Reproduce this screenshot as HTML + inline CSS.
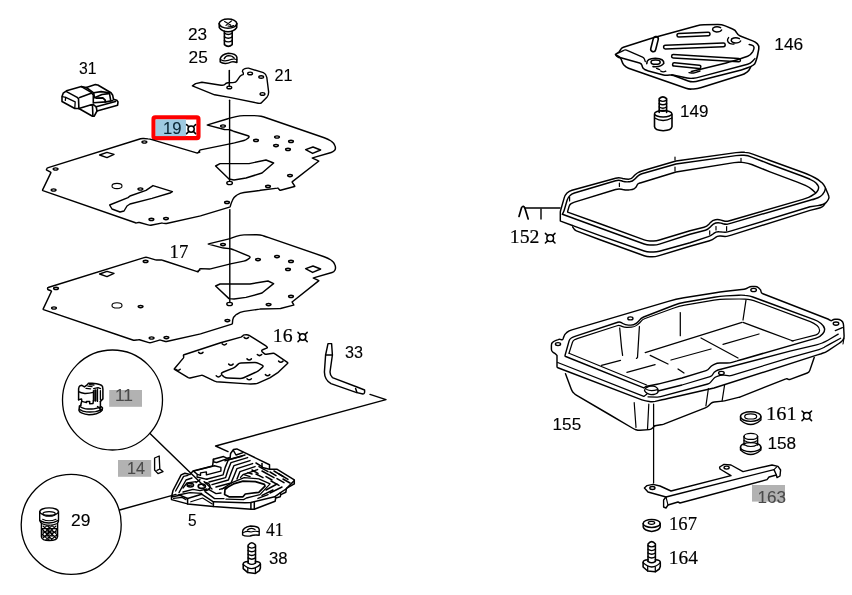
<!DOCTYPE html>
<html><head><meta charset="utf-8"><title>Diagram</title>
<style>
html,body{margin:0;padding:0;background:#fff;}
body{width:852px;height:595px;overflow:hidden;font-family:"Liberation Sans",sans-serif;}
svg{display:block;font-family:"Liberation Sans",sans-serif;will-change:transform;transform:translateZ(0);}
</style></head><body>
<svg width="852" height="595" viewBox="0 0 852 595">
<rect width="852" height="595" fill="#fff"/>
<g fill="none" stroke="#000" stroke-width="1.45" stroke-linejoin="round" stroke-linecap="round">
<rect x="153.55" y="117.35" width="44.9" height="20.75" rx="1.6" fill="#fff" stroke="#fe0000" stroke-width="4.2" stroke-linejoin="miter"/>
<rect x="155.6" y="119.4" width="30.4" height="16.7" fill="#9ecae1" stroke="none"/>
<text x="163" y="134.4" textLength="18.5" lengthAdjust="spacingAndGlyphs" font-size="17" fill="#0a2836" stroke="#0a2836" stroke-width="0.12">19</text>
<circle cx="191.1" cy="129.1" r="3.136" stroke-width="1.5"/>
<line x1="188.842" y1="126.842" x2="186.6" y2="124.6" stroke-width="1.5"/>
<line x1="193.358" y1="126.842" x2="195.6" y2="124.6" stroke-width="1.5"/>
<line x1="188.842" y1="131.358" x2="186.6" y2="133.6" stroke-width="1.5"/>
<line x1="193.358" y1="131.358" x2="195.6" y2="133.6" stroke-width="1.5"/>
<rect x="109.2" y="390" width="32.8" height="16.8" fill="#b2b2b2" stroke="none"/>
<text x="115" y="401.4" textLength="18" lengthAdjust="spacingAndGlyphs" font-size="17" fill="#4a4a4a" stroke="#4a4a4a" stroke-width="0.12">11</text>
<rect x="118" y="460" width="33.2" height="16.8" fill="#b2b2b2" stroke="none"/>
<text x="127" y="474.4" textLength="18" lengthAdjust="spacingAndGlyphs" font-size="17" fill="#4a4a4a" stroke="#4a4a4a" stroke-width="0.12">14</text>
<rect x="752" y="485" width="33" height="16.6" fill="#b2b2b2" stroke="none"/>
<text x="757.5" y="502.6" textLength="28.5" lengthAdjust="spacingAndGlyphs" font-size="17" fill="#4a4a4a" stroke="#4a4a4a" stroke-width="0.12">163</text>
<text x="79" y="74" textLength="17.5" lengthAdjust="spacingAndGlyphs" font-size="17" fill="#000" stroke="#000" stroke-width="0.12">31</text>
<text x="188" y="39.6" textLength="19.2" lengthAdjust="spacingAndGlyphs" font-size="17" fill="#000" stroke="#000" stroke-width="0.12">23</text>
<text x="188.6" y="63" textLength="19.2" lengthAdjust="spacingAndGlyphs" font-size="17" fill="#000" stroke="#000" stroke-width="0.12">25</text>
<text x="274.4" y="81.4" textLength="18" lengthAdjust="spacingAndGlyphs" font-size="17" fill="#000" stroke="#000" stroke-width="0.12">21</text>
<text x="169.6" y="257.9" textLength="18.8" lengthAdjust="spacingAndGlyphs" font-size="19.4" font-family="Liberation Serif" fill="#000" stroke="#000" stroke-width="0.2">17</text>
<text x="272.8" y="341.8" textLength="19.8" lengthAdjust="spacingAndGlyphs" font-size="19.2" font-family="Liberation Serif" fill="#000" stroke="#000" stroke-width="0.2">16</text>
<circle cx="302.6" cy="337" r="3.2" stroke-width="1.5"/>
<line x1="300.296" y1="334.696" x2="298" y2="332.4" stroke-width="1.5"/>
<line x1="304.904" y1="334.696" x2="307.2" y2="332.4" stroke-width="1.5"/>
<line x1="300.296" y1="339.304" x2="298" y2="341.6" stroke-width="1.5"/>
<line x1="304.904" y1="339.304" x2="307.2" y2="341.6" stroke-width="1.5"/>
<text x="345" y="358" textLength="18" lengthAdjust="spacingAndGlyphs" font-size="17" fill="#000" stroke="#000" stroke-width="0.12">33</text>
<text x="71" y="525.6" textLength="19.4" lengthAdjust="spacingAndGlyphs" font-size="17" fill="#000" stroke="#000" stroke-width="0.12">29</text>
<text x="188" y="525.6" textLength="8.6" lengthAdjust="spacingAndGlyphs" font-size="17" fill="#000" stroke="#000" stroke-width="0.12">5</text>
<text x="266" y="535.6" textLength="17.4" lengthAdjust="spacingAndGlyphs" font-size="19.2" font-family="Liberation Serif" fill="#000" stroke="#000" stroke-width="0.2">41</text>
<text x="269" y="563.5" textLength="18.6" lengthAdjust="spacingAndGlyphs" font-size="17" fill="#000" stroke="#000" stroke-width="0.12">38</text>
<text x="774.3" y="50.4" textLength="29" lengthAdjust="spacingAndGlyphs" font-size="17" fill="#000" stroke="#000" stroke-width="0.12">146</text>
<text x="680" y="117" textLength="28.4" lengthAdjust="spacingAndGlyphs" font-size="17" fill="#000" stroke="#000" stroke-width="0.12">149</text>
<text x="509.8" y="242.8" textLength="29.6" lengthAdjust="spacingAndGlyphs" font-size="19.2" font-family="Liberation Serif" fill="#000" stroke="#000" stroke-width="0.2">152</text>
<circle cx="550.2" cy="238.2" r="3.328" stroke-width="1.5"/>
<line x1="547.804" y1="235.804" x2="545.4" y2="233.4" stroke-width="1.5"/>
<line x1="552.596" y1="235.804" x2="555" y2="233.4" stroke-width="1.5"/>
<line x1="547.804" y1="240.596" x2="545.4" y2="243" stroke-width="1.5"/>
<line x1="552.596" y1="240.596" x2="555" y2="243" stroke-width="1.5"/>
<text x="552.6" y="430" textLength="28.6" lengthAdjust="spacingAndGlyphs" font-size="17" fill="#000" stroke="#000" stroke-width="0.12">155</text>
<text x="766" y="420.2" textLength="30.6" lengthAdjust="spacingAndGlyphs" font-size="19.2" font-family="Liberation Serif" fill="#000" stroke="#000" stroke-width="0.2">161</text>
<circle cx="806.8" cy="415.8" r="3.328" stroke-width="1.5"/>
<line x1="804.404" y1="413.404" x2="802" y2="411" stroke-width="1.5"/>
<line x1="809.196" y1="413.404" x2="811.6" y2="411" stroke-width="1.5"/>
<line x1="804.404" y1="418.196" x2="802" y2="420.6" stroke-width="1.5"/>
<line x1="809.196" y1="418.196" x2="811.6" y2="420.6" stroke-width="1.5"/>
<text x="767.4" y="448.6" textLength="28.8" lengthAdjust="spacingAndGlyphs" font-size="17" fill="#000" stroke="#000" stroke-width="0.12">158</text>
<text x="669" y="529.6" textLength="28" lengthAdjust="spacingAndGlyphs" font-size="19.2" font-family="Liberation Serif" fill="#000" stroke="#000" stroke-width="0.2">167</text>
<text x="668.8" y="563.8" textLength="29" lengthAdjust="spacingAndGlyphs" font-size="19.2" font-family="Liberation Serif" fill="#000" stroke="#000" stroke-width="0.2">164</text>
<path d="M199.5,152.2 L197.5,152.8 Q197.0,153.0 196.5,152.9 L151.9,139.6 Q150.0,139.0 148.0,138.9 L143.5,138.5 Q142.0,138.4 140.6,138.8 L47.5,167.9 Q47.0,168.0 46.9,168.5 L46.5,169.5 Q46.4,170.0 46.8,170.2 L50.6,172.2 Q51.0,172.4 50.8,172.9 L42.6,189.9 Q42.4,190.4 42.9,190.6 L135.5,222.8 Q136.0,223.0 136.5,222.9 L138.5,222.5 Q139.0,222.4 139.5,222.5 L148.1,224.9 Q150.0,225.4 152.0,225.0 L161.5,223.1 Q162.0,223.0 162.5,223.1 L165.5,223.5 Q166.0,223.6 166.5,223.5 L199.5,216.1 Q200.0,216.0 200.5,215.9 L229.5,207.1 Q230.0,207.0 230.2,206.5 L231.0,203.9 Q231.6,202.0 232.5,200.2 L232.8,199.5 Q234.0,197.0 236.5,195.3 L237.0,195.0 Q240.0,193.0 244.0,192.5 L259.5,190.5 Q260.0,190.4 260.5,190.3 L277.5,188.1 Q278.0,188.0 278.3,188.4 L279.7,190.0 Q280.0,190.4 280.5,190.3 L294.5,186.5 Q295.0,186.4 294.7,186.0 L292.3,182.4 Q292.0,182.0 292.4,181.7 L318.6,161.3 Q319.0,161.0 318.5,160.8 L312.5,158.2 Q312.0,158.0 312.5,157.9 L331.1,152.5 Q333.0,152.0 334.4,150.6 L334.5,150.5 Q336.0,149.0 335.1,146.2 L334.9,145.8 Q334.0,143.0 331.5,141.3 L331.0,141.0 Q328.0,139.0 324.2,137.7 L266.8,118.0 Q264.0,117.0 261.1,116.3 L261.0,116.3 Q258.0,115.6 254.0,115.6 L244.0,115.6 Q240.0,115.6 236.1,116.6 L230.9,117.9 Q229.0,118.4 227.1,119.0 L207.5,124.9 Q207.0,125.0 207.5,125.1 L224.5,129.5 Q225.0,129.6 225.5,129.6 L228.5,129.6 Q229.0,129.6 229.5,129.8 L232.5,130.8 Q233.0,131.0 233.5,131.2 L247.9,135.7 Q250.0,136.4 248.4,137.9 L247.6,138.5 Q246.0,140.0 243.9,140.5 L234.5,142.9 Q234.0,143.0 233.5,143.1 L200.5,149.9 Q200.0,150.0 199.7,150.4 L198.3,152.6 Q198.0,153.0 197.5,153.0 L197.5,153.0 Q197.0,153.0 197.5,152.8 L199.5,152.2 Q200.0,152.0 199.5,152.2 Z"/>
<path d="M215.6,166 L220,163.6 L249,163.6 L266,160 L273.6,163 L262,173 L246,178 L234,180 L229,179 Z"/>
<ellipse cx="229.6" cy="183" rx="2.8" ry="1.6" stroke-width="1.4"/>
<ellipse cx="223" cy="126" rx="2.4" ry="1.1" stroke-width="1.4"/>
<ellipse cx="256" cy="140.4" rx="2.4" ry="1.1" stroke-width="1.4"/>
<ellipse cx="277" cy="137" rx="2.4" ry="1.1" stroke-width="1.4"/>
<ellipse cx="291" cy="141.4" rx="2.4" ry="1.1" stroke-width="1.4"/>
<ellipse cx="288" cy="149.4" rx="2.4" ry="1.1" stroke-width="1.4"/>
<ellipse cx="290" cy="175.6" rx="2.4" ry="1.1" stroke-width="1.4"/>
<ellipse cx="268" cy="186.4" rx="2.4" ry="1.1" stroke-width="1.4"/>
<ellipse cx="227" cy="202.4" rx="2.4" ry="1.1" stroke-width="1.4"/>
<ellipse cx="144.4" cy="142" rx="2.4" ry="1.1" stroke-width="1.4"/>
<ellipse cx="55.6" cy="169" rx="2.4" ry="1.1" stroke-width="1.4"/>
<ellipse cx="53.6" cy="190" rx="2.4" ry="1.1" stroke-width="1.4"/>
<ellipse cx="140.4" cy="189" rx="2.4" ry="1.1" stroke-width="1.4"/>
<ellipse cx="151.4" cy="219.4" rx="2.4" ry="1.1" stroke-width="1.4"/>
<ellipse cx="166" cy="218.6" rx="2.4" ry="1.1" stroke-width="1.4"/>
<ellipse cx="276" cy="145.6" rx="2.4" ry="1.1" stroke-width="1.4"/>
<ellipse cx="117" cy="186" rx="5" ry="2.6" stroke-width="1.1"/>
<path d="M99.6,155 L107,152.4 L114,154.4 L107,157.6 Z"/>
<path d="M305.6,149.6 L313,147 L320.6,150 L312.6,153.4 Z"/>
<path d="M109.6,205 L128,197.6 L130,196 L146,190.4 L153,185.6 L172.4,191.6 L170,193 L152,198.4 L130,204 L127,206 L124,211 L120,212 L112,209 Z"/>
<path d="M199.6,270.2 L197.4,271.4 Q197.0,271.6 196.5,271.4 L162.5,260.2 Q162.0,260.0 161.5,260.0 L156.5,260.0 Q156.0,260.0 155.5,259.9 L147.9,257.6 Q146.0,257.0 144.1,257.6 L48.1,287.5 Q47.6,287.6 47.6,288.1 L47.6,289.1 Q47.6,289.6 48.1,289.8 L51.1,290.8 Q51.6,291.0 51.4,291.5 L43.2,308.9 Q43.0,309.4 43.5,309.6 L133.5,340.2 Q134.0,340.4 134.5,340.3 L138.5,339.7 Q139.0,339.6 139.5,339.7 L148.1,342.4 Q150.0,343.0 151.9,342.4 L159.5,340.1 Q160.0,340.0 160.5,340.1 L165.5,341.5 Q166.0,341.6 166.5,341.5 L199.5,334.1 Q200.0,334.0 200.5,333.9 L231.9,324.1 Q232.4,324.0 232.4,323.5 L232.7,320.0 Q233.0,317.0 235.4,315.3 L236.7,314.3 Q240.0,312.0 244.0,311.4 L259.5,309.1 Q260.0,309.0 260.5,309.0 L279.5,308.6 Q280.0,308.6 280.5,308.5 L293.5,305.1 Q294.0,305.0 293.7,304.6 L292.3,302.4 Q292.0,302.0 292.4,301.7 L318.6,280.9 Q319.0,280.6 318.5,280.4 L313.5,278.2 Q313.0,278.0 313.5,277.9 L332.1,272.5 Q334.0,272.0 334.9,270.2 L335.0,270.0 Q336.0,268.0 335.1,265.2 L334.9,264.8 Q334.0,262.0 331.5,260.3 L331.0,260.0 Q328.0,258.0 324.2,256.7 L268.8,237.6 Q266.0,236.6 263.2,235.7 L263.0,235.6 Q260.0,234.6 256.0,234.7 L244.0,234.9 Q240.0,235.0 236.2,236.4 L231.9,237.9 Q230.0,238.6 228.1,239.1 L208.5,243.9 Q208.0,244.0 208.5,244.1 L222.5,247.9 Q223.0,248.0 223.5,248.0 L229.5,248.6 Q230.0,248.6 230.5,248.8 L233.5,249.8 Q234.0,250.0 234.5,250.2 L249.0,256.2 Q251.0,257.0 249.2,258.3 L247.8,259.3 Q246.0,260.6 243.8,261.1 L230.5,263.9 Q230.0,264.0 229.5,264.1 L210.5,268.9 Q210.0,269.0 209.5,269.0 L200.5,268.6 Q200.0,268.6 199.7,269.0 L198.3,271.6 Q198.0,272.0 197.5,271.8 L197.5,271.8 Q197.0,271.6 197.4,271.4 L199.6,270.2 Q200.0,270.0 199.6,270.2 Z"/>
<path d="M215.6,286 L220,284 L250,284 L268,281 L273.6,283.6 L262,293 L246,297.4 L234,299 L229,298.6 Z"/>
<ellipse cx="229.6" cy="304" rx="2.8" ry="1.6" stroke-width="1.4"/>
<ellipse cx="258" cy="259.6" rx="2.4" ry="1.1" stroke-width="1.4"/>
<ellipse cx="277" cy="256.6" rx="2.4" ry="1.1" stroke-width="1.4"/>
<ellipse cx="291" cy="261.4" rx="2.4" ry="1.1" stroke-width="1.4"/>
<ellipse cx="288" cy="269.4" rx="2.4" ry="1.1" stroke-width="1.4"/>
<ellipse cx="291" cy="296.4" rx="2.4" ry="1.1" stroke-width="1.4"/>
<ellipse cx="268.6" cy="304.6" rx="2.4" ry="1.1" stroke-width="1.4"/>
<ellipse cx="227.4" cy="320.6" rx="2.4" ry="1.1" stroke-width="1.4"/>
<ellipse cx="223" cy="244.6" rx="2.4" ry="1.1" stroke-width="1.4"/>
<ellipse cx="145.6" cy="261.4" rx="2.4" ry="1.1" stroke-width="1.4"/>
<ellipse cx="56" cy="288.4" rx="2.4" ry="1.1" stroke-width="1.4"/>
<ellipse cx="54" cy="308" rx="2.4" ry="1.1" stroke-width="1.4"/>
<ellipse cx="140.6" cy="306.6" rx="2.4" ry="1.1" stroke-width="1.4"/>
<ellipse cx="151.6" cy="338" rx="2.4" ry="1.1" stroke-width="1.4"/>
<ellipse cx="166.4" cy="337.6" rx="2.4" ry="1.1" stroke-width="1.4"/>
<ellipse cx="117" cy="305.4" rx="5" ry="2.6" stroke-width="1.1"/>
<path d="M99.6,274 L107,271.4 L114,273.4 L107,276.6 Z"/>
<path d="M305.6,268.6 L313,266 L320.6,269 L312.6,272.4 Z"/>
<line x1="229.6" y1="100.2" x2="229.6" y2="181" stroke-width="1.4"/>
<line x1="229.8" y1="209.6" x2="229.8" y2="302.5" stroke-width="1.4"/>
<line x1="229.3" y1="70.4" x2="229.3" y2="86.4" stroke-width="1.5"/>
<path d="M192.4,85.8 L195.6,83.6 L201.9,82.3 L221,85.2 Q223,85.6 224.6,84.6 Q226,83 228,82.8 L233,82.6 Q236,82.4 237,80.6 L240.1,76.2 Q241.4,74.8 243.2,74.6 Q243.8,73 242.4,71.6 Q242.4,69.4 244.3,68.8 Q246,68 248.5,68.1 L263.4,72.7 Q266,73.8 266.8,77.4 L268.6,91.6 Q268.8,95 267.1,96.9 L261.2,103 Q259.6,103.6 258.1,103.2 L229.5,97.4 L214.6,94.8 Z" stroke-width="1.4"/>
<ellipse cx="250.1" cy="73.4" rx="2.4" ry="1.3" stroke-width="1.4"/>
<ellipse cx="261.2" cy="77" rx="2.4" ry="1.3" stroke-width="1.4"/>
<ellipse cx="262.5" cy="93.9" rx="2.4" ry="1.3" stroke-width="1.4"/>
<ellipse cx="229.3" cy="87.4" rx="2.4" ry="1.3" stroke-width="1.4"/>
<ellipse cx="228" cy="23.6" rx="8.8" ry="4.6" stroke-width="1.6"/>
<path d="M219.2,23.6 L219.3,27.6 Q222,31.6 228,31.8 Q234,31.6 236.7,27.6 L236.8,23.6" stroke-width="1.6"/>
<path d="M224.4,31.4 L224.4,44.6 Q228.3,48 232.2,44.6 L232.2,31.4" stroke-width="1.6"/>
<path d="M224.4,33.2 Q228.3,35.800000000000004 232.2,33.2" stroke-width="1.4"/>
<path d="M224.4,36.9 Q228.3,39.5 232.2,36.9" stroke-width="1.4"/>
<path d="M224.4,40.6 Q228.3,43.2 232.2,40.6" stroke-width="1.4"/>
<path d="M224.6,21.6 L230.6,25 M231.4,21 L226,25.4 M228,26 Q231,27 233.6,25.6" stroke-width="1.2"/>
<path d="M220.2,58.8 Q221.6,54.4 228.4,53.3 Q236,53.6 236.9,57.2 L236.9,62.5 Q233.6,61.2 231.6,61.9 Q227,63.8 225.2,63.5 Q222,63.2 220.2,61.9 Z" stroke-width="1.5"/>
<path d="M220.4,59.4 Q223,61 225.2,60.9 Q228,60.8 231.6,59.3 Q234.6,58.6 236.8,59.6" stroke-width="1.2"/>
<path d="M224.2,58.8 Q225.6,55.8 228.4,55.6 Q232.6,55.6 234.2,58.2" stroke-width="1.4"/>
<path d="M174.4,368.7 L183.3,358.1 Q183.9,357.3 183.6,356.3 L183.5,356.1 Q183.2,355.1 184.1,354.8 L220.6,342.7 Q220.6,342.7 220.6,342.7 L240.9,337.1 Q241.9,336.8 242.5,336.0 L242.8,335.8 Q243.4,335.0 244.4,334.9 L246.3,334.7 Q247.8,334.6 249.1,335.4 L265.9,345.8 Q266.8,346.3 267.2,347.1 L267.2,347.1 Q267.6,347.8 266.7,348.1 L262.6,349.7 Q261.7,350.0 261.7,350.8 L261.7,350.8 Q261.7,351.6 262.5,352.2 L264.6,353.8 Q265.4,354.4 266.4,354.3 L273.2,353.3 Q274.2,353.2 275.0,353.8 L287.4,362.4 Q288.1,362.9 287.5,363.5 L279.3,371.3 Q278.6,372.0 277.8,372.6 L269.8,377.9 Q269.8,377.9 269.8,377.9 L258.0,383.2 Q256.6,383.8 255.1,383.8 L250.7,384.0 Q249.2,384.0 247.7,383.9 L216.5,381.7 Q215.5,381.6 214.6,381.2 L203.2,375.6 Q202.3,375.2 201.3,375.4 L190.1,378.0 Q189.1,378.2 188.2,377.7 L174.5,369.4 Q174.1,369.1 174.4,368.7 Z" stroke-width="1.45"/>
<path d="M222.8,372.2 L233.2,368.1 Q234.6,367.6 235.7,366.5 L237.6,364.6 Q239.0,363.2 241.0,363.1 L254.6,362.6 Q256.6,362.5 258.4,363.4 L262.1,365.2 Q263.9,366.1 262.4,367.4 L259.1,370.3 Q258.0,371.3 256.6,371.9 L243.7,377.8 Q241.9,378.6 239.9,378.5 L227.8,378.0 Q225.8,377.9 224.1,376.8 L222.6,375.7 Q221.4,374.9 221.4,373.8 L221.4,373.8 Q221.4,372.7 222.8,372.2 Z" stroke-width="1.5"/>
<path d="M175.8,369.2 Q178.0,371.4 180.2,369.2" stroke-width="1.5"/>
<path d="M198.6,352.4 Q200.8,354.6 203.0,352.4" stroke-width="1.5"/>
<path d="M222.1,343.8 Q224.3,346.0 226.5,343.8" stroke-width="1.5"/>
<path d="M244.1,337.4 Q246.3,339.6 248.5,337.4" stroke-width="1.5"/>
<path d="M257.3,354.5 Q259.5,356.7 261.7,354.5" stroke-width="1.5"/>
<path d="M278.6,361.1 Q280.8,363.3 283.0,361.1" stroke-width="1.5"/>
<path d="M265.4,374.6 Q267.6,376.8 269.8,374.6" stroke-width="1.5"/>
<path d="M247.0,378.7 Q249.2,380.9 251.4,378.7" stroke-width="1.5"/>
<path d="M216.2,375.8 Q218.4,378.0 220.6,375.8" stroke-width="1.5"/>
<path d="M228.7,364.1 Q230.9,366.3 233.1,364.1" stroke-width="1.5"/>
<path d="M247.0,358.9 Q249.2,361.1 251.4,358.9" stroke-width="1.5"/>
<path d="M328,343.6 L325.6,355 L324.4,372 Q324.6,380 331,383.6 L356,392.4 L363,394 Q365,394 364.6,390 L357,387 L332.4,377.6 Q330,375 330,372 L332.4,355 L331.6,343.6 Z"/>
<line x1="325.6" y1="355" x2="332.4" y2="355"/>
<line x1="355.6" y1="388.4" x2="357" y2="392.4"/>
<path d="M370,394.4 L386,399.6 L215.6,446 L228,451.6"/>
<circle cx="112.5" cy="400" r="50" stroke-width="1.3"/>
<circle cx="71.2" cy="524.4" r="50" stroke-width="1.3"/>
<line x1="150" y1="433.5" x2="204" y2="486"/>
<line x1="119.6" y1="510" x2="176" y2="494.4"/>
<path d="M154.6,458 L159.2,456 L159.8,469 L163,471.6 L158,473.6 L154.6,470 Z M159.8,469 L157,470.4" stroke-width="1.35"/>
<path d="M78.6,399.7 L78.6,388.6 Q79,386.4 80.2,385.7 L81.9,385.3 L84.4,386.9 L87.2,384.9 L88.5,383.2 L92.2,383.2 Q97,383.4 99.6,384.5 Q102,385.4 102.5,386.5 L102.9,389 L102.9,398.9 L100.4,401.4" stroke-width="1.5"/>
<path d="M78.6,391.6 Q81,393 84.8,393.5 Q89,393.6 93.4,392.4" stroke-width="1.3"/>
<path d="M86,388.4 L90.6,388.8 M88,386.2 L92,386.6 M89.6,384.6 L94,385" stroke-width="1.3"/>
<path d="M93.4,390.7 L93.4,400.5 M97.5,389 L97.5,401.4 M100.4,390.7 L100.4,399.6" stroke-width="1.3"/>
<path d="M95.4,390.4 L95.4,400.6" stroke-width="2.4"/>
<path d="M93.6,388.6 L98,387.6 L100.6,388.6" stroke-width="1.2"/>
<path d="M78.6,399.7 L81.5,398.9 L81.9,401.4 L86.4,402.6 L86.5,401.4 L89.7,401.5 L89.7,403.8 L93,403.4 L93.4,400.5" stroke-width="1.5"/>
<path d="M81.5,401.8 L80.7,405.5 M100.4,401.4 L100.4,407.9" stroke-width="1.5"/>
<path d="M80.7,405.5 Q79.2,405.8 79.4,406.3 L79,410.4 Q79.6,412 81.5,412.9 Q85,414.6 88.9,414.7 Q93,414.6 96.3,413.7 Q100.6,412.4 102.1,410.4 L102.5,407.9 Q101.6,406.6 100.4,406.4" stroke-width="1.5"/>
<path d="M79.8,406.6 Q82,408.4 85.6,408.8 Q90,409.2 93.8,408.8 Q97.6,408.2 99.6,407.4" stroke-width="1.3"/>
<path d="M79.4,409.4 Q82.6,411.6 86.4,411.9 Q91,412.2 95.5,411.7 Q99.4,411 101.6,409.4" stroke-width="1.3"/>
<path d="M97.6,406.6 Q101,408.6 100.6,411.4" stroke-width="1.6"/>
<path d="M248.10000000000002,563 L248.10000000000002,545.2 Q251.8,540.4 255.5,545.2 L255.5,563" stroke-width="1.55"/>
<path d="M248.10000000000002,546.8 Q251.8,549.4 255.5,546.8" stroke-width="1.35"/>
<path d="M248.10000000000002,550.5 Q251.8,553.1 255.5,550.5" stroke-width="1.35"/>
<path d="M248.10000000000002,554.2 Q251.8,556.8 255.5,554.2" stroke-width="1.35"/>
<path d="M248.10000000000002,557.9 Q251.8,560.5 255.5,557.9" stroke-width="1.35"/>
<path d="M248.10000000000002,561.4 Q243.20000000000002,561.6 243.20000000000002,564 L243.20000000000002,568.6 L247.8,572.6 L255.4,573.4 L259.40000000000003,570.6 L260.40000000000003,568 L260.40000000000003,564 Q260.40000000000003,561.6 255.5,561.4" stroke-width="1.55"/>
<path d="M243.20000000000002,564.4 Q247.8,568.4 251.8,568.6 Q256.8,568.2 260.40000000000003,564.2" stroke-width="1.35"/>
<path d="M247.8,568 L247.8,572.6 M255.4,568.4 L255.4,573.4" stroke-width="1.25"/>
<path d="M248.10000000000002,563 Q251.8,565.8 255.5,563" stroke-width="1.35"/>
<path d="M648.0,561.4 L648.0,544.0 Q651.7,539.1999999999999 655.4000000000001,544.0 L655.4000000000001,561.4" stroke-width="1.55"/>
<path d="M648.0,545.6 Q651.7,548.2 655.4000000000001,545.6" stroke-width="1.35"/>
<path d="M648.0,549.3 Q651.7,551.9 655.4000000000001,549.3" stroke-width="1.35"/>
<path d="M648.0,553.0 Q651.7,555.6 655.4000000000001,553.0" stroke-width="1.35"/>
<path d="M648.0,556.7 Q651.7,559.3 655.4000000000001,556.7" stroke-width="1.35"/>
<path d="M648.0,559.8 Q643.1,560.0 643.1,562.4 L643.1,567.0 L647.7,571.0 L655.3000000000001,571.8 L659.3000000000001,569.0 L660.3000000000001,566.4 L660.3000000000001,562.4 Q660.3000000000001,560.0 655.4000000000001,559.8" stroke-width="1.55"/>
<path d="M643.1,562.8 Q647.7,566.8 651.7,567.0 Q656.7,566.6 660.3000000000001,562.6" stroke-width="1.35"/>
<path d="M647.7,566.4 L647.7,571.0 M655.3000000000001,566.8 L655.3000000000001,571.8" stroke-width="1.25"/>
<path d="M648.0,561.4 Q651.7,564.1999999999999 655.4000000000001,561.4" stroke-width="1.35"/>
<ellipse cx="651.7" cy="523.4" rx="8.5" ry="4" stroke-width="1.5"/>
<ellipse cx="651.5" cy="522.8" rx="3.2" ry="1.5" stroke-width="1.3"/>
<path d="M643.2,523.4 L643.2,527 Q644,530.4 651.7,531.4 Q659.4,530.4 660.2,527 L660.2,523.4" stroke-width="1.5"/>
<path d="M838.2,334.1 L827.9,340.3 Q825.3,341.8 822.5,342.9 L822.2,343.0 Q819.4,344.1 816.5,344.8 L790.0,351.2 Q790.0,351.2 790.0,351.2 L719.9,369.5 Q718.0,370.0 716.2,370.9 L715.8,371.1 Q714.0,372.0 713.1,373.8 L712.9,374.2 Q712.0,376.0 710.1,376.6 L682.0,385.0 Q682.0,385.0 682.0,385.0 L658.0,391.0" stroke-width="1.3"/>
<path d="M840.6,338.2 L830.2,343.9 Q827.6,345.3 825.0,346.8 L824.4,347.3 Q821.8,348.8 818.9,349.6 L790.0,357.6 Q790.0,357.6 790.0,357.6 L731.9,375.4 Q730.0,376.0 728.0,375.7 L724.1,375.1 Q722.1,374.8 720.2,375.4 L716.5,376.7 Q714.6,377.3 713.4,378.9 L710.9,381.9 Q709.7,383.5 707.8,384.0 L660.6,396.7 Q658.7,397.2 656.7,397.1 L648.0,396.8" stroke-width="1.3"/>
<path d="M842.4,327.6 L835.3,330.6" stroke-width="1.3"/>
<path d="M557.0,355.4 L556.3,354.7 Q555.6,354.0 554.8,353.4 L553.1,352.3 Q551.4,351.2 551.4,349.2 L551.4,345.4 Q551.4,343.4 552.5,342.4 L552.5,342.4 Q553.5,341.3 555.4,340.6 L558.2,339.6 Q559.1,339.2 560.1,339.4 L561.6,339.7 Q562.6,339.9 563.0,339.0 L564.3,335.6 Q564.8,334.2 566.0,333.2 L566.9,332.4 Q569.0,330.7 571.9,329.9 L668.3,301.4 Q676.0,299.1 683.9,297.8 L714.1,293.0 Q720.0,292.0 726.0,291.3 L744.0,289.2 Q746.0,289.0 747.7,287.9 L748.3,287.5 Q750.0,286.4 752.0,286.4 L755.0,286.4 Q757.0,286.4 758.5,287.7 L759.5,288.7 Q761.0,290.0 761.0,291.5 L761.0,291.5 Q761.0,293.0 762.9,293.7 L827.9,319.0 Q828.8,319.4 829.6,320.0 L830.4,320.4 Q831.2,321.0 832.0,320.4 L832.4,320.1 Q833.5,319.2 835.0,319.2 L837.4,319.2 Q839.4,319.2 841.0,320.4 L841.4,320.6 Q843.0,321.8 843.3,323.6 L843.4,324.3 Q843.6,325.3 843.6,326.3 L844.1,336.1 Q844.1,337.1 843.8,338.1 L843.8,338.2 Q843.5,339.4 842.5,340.5 L842.0,341.0 Q840.6,342.4 838.9,343.5 L827.8,350.8 Q825.3,352.4 822.4,353.3 L821.3,353.7 Q819.4,354.3 817.5,354.9 L714.0,388.0 Q714.0,388.0 714.0,388.0 L667.9,398.5 Q665.0,399.2 662.1,399.8 L655.2,401.4 Q652.3,402.0 649.3,401.5 L645.8,400.9 Q643.8,400.6 641.9,399.9 L557.9,367.8 Q557.0,367.4 557.0,366.4 L557.0,355.4" stroke-width="1.45"/>
<path d="M565.1,355.1 L569.1,340.9 Q569.6,339.0 571.3,338.0 L571.3,338.0 Q573.0,337.0 574.9,336.4 L617.8,322.2 Q619.7,321.6 621.4,322.6 L622.8,323.5 Q625.4,325.1 628.4,325.1 L630.8,325.1 Q633.8,325.1 636.2,323.4 L636.3,323.3 Q638.7,321.6 639.8,319.9 L639.8,319.9 Q640.8,318.1 643.6,317.0 L673.3,305.5 Q678.9,303.3 684.8,302.3 L714.1,297.3 Q720.0,296.3 726.0,295.9 L739.0,295.2 Q742.0,295.0 745.0,295.4 L747.0,295.6 Q750.0,296.0 752.8,297.0 L814.2,319.6 Q818.0,321.0 821.0,323.5 L821.0,323.5 Q824.0,326.0 824.5,328.5 L824.5,328.5 Q825.0,331.0 823.1,333.3 L822.5,334.0 Q820.0,337.0 816.2,338.1 L742.9,359.2 Q740.0,360.0 737.1,360.9 L732.9,362.1 Q730.0,363.0 727.0,363.0 L720.0,363.0 Q717.0,363.0 714.3,364.3 L712.8,365.1 Q711.0,366.0 709.8,367.6 L709.2,368.4 Q708.0,370.0 706.1,370.6 L682.0,378.0 Q682.0,378.0 682.0,378.0 L662.9,382.9 Q660.0,383.6 657.1,384.2 L652.0,385.2 Q650.0,385.6 648.0,386.0 L646.9,386.3 Q645.9,386.5 645.1,387.1 L643.8,387.9 Q643.8,387.9 643.8,387.9 L565.7,356.5 Q564.8,356.1 565.1,355.1 Z" stroke-width="1.45"/>
<path d="M569.0,353.3 L572.4,342.5 Q573.0,340.6 574.5,339.8 L574.5,339.8 Q576.0,339.0 577.9,338.4 L617.1,325.7 Q619.0,325.1 620.8,325.9 L621.9,326.4 Q624.6,327.6 627.6,327.4 L631.5,327.2 Q634.5,327.0 636.9,325.1 L637.7,324.5 Q640.1,322.6 641.2,321.1 L641.2,321.1 Q642.3,319.5 645.1,318.5 L673.3,308.2 Q678.9,306.1 684.8,305.1 L714.1,300.1 Q720.0,299.1 726.0,299.1 L739.0,299.0 Q742.0,299.0 745.0,299.2 L748.0,299.4 Q751.0,299.6 753.8,300.6 L810.3,321.6 Q814.0,323.0 817.0,325.5 L817.0,325.5 Q820.0,328.0 819.5,331.0 L819.5,331.0 Q819.0,334.0 816.1,334.8 L792.0,341.0" stroke-width="1.2"/>
<path d="M62,96.5 L63.2,93.2 L66.5,90.8 L81.4,86.6 L86.3,87.5 L95.4,84.6 L97.8,85 L111,92.8 L112.7,95.3 L113.5,99.4 L116.8,100.2 L118,101.9 L117.6,105.2 L97,111 L94.1,116.3 L92.5,116.3 L78.9,108.5 L74.8,108.5 L62,101.5 Z" stroke-width="1.6"/>
<path d="M66.5,91.6 L77.2,97.4 L78.5,98.6 L78.9,108.5" stroke-width="1.6"/>
<path d="M81.4,86.6 L91.2,92.4 L93.3,94.9 L93.3,102.7" stroke-width="1.6"/>
<path d="M79.7,97.4 L91.2,93.2" stroke-width="1.6"/>
<path d="M62.4,96.6 L65.7,97.4 L75.2,101.9 L74.8,108" stroke-width="1.3"/>
<path d="M65.7,97.4 L65.3,100.4" stroke-width="1.3"/>
<path d="M78.9,108.5 L89.6,105.2 L93.3,104.4" stroke-width="1.6"/>
<path d="M86.3,87.5 L93.7,92.8 L101.1,91.6 L109.4,92.8" stroke-width="1.6"/>
<path d="M93.7,92.8 L94.5,97.8 L102,94.5 L108.6,93.6" stroke-width="1.6"/>
<path d="M96.2,98.2 L102.8,97.8 L105.2,100.2 L105.2,101.9" stroke-width="1.8"/>
<path d="M93.7,102.7 L106,101.9 L112.7,100.6" stroke-width="1.6"/>
<path d="M90.4,105.2 L93.7,104.8 L96.2,106.8 L115.5,101.5" stroke-width="1.6"/>
<path d="M96.2,106.8 L97,111" stroke-width="1.6"/>
<path d="M92.5,106 L92.9,115.9" stroke-width="1.6"/>
<path d="M109.4,92.8 L110.6,99.8" stroke-width="1.6"/>
<ellipse cx="49.1" cy="511.7" rx="9.4" ry="3.8" stroke-width="1.4"/>
<ellipse cx="49.1" cy="513.9" rx="6.2" ry="2.2" stroke-width="1.2"/>
<path d="M39.7,511.7 L39.7,520.4 Q40.4,522.6 41.4,523 L41.4,537 Q42,540.6 49.2,540.6 Q57,540.6 57.6,536.6 L57.6,523 Q58.6,522 58.5,520 L58.5,511.7" stroke-width="1.4"/>
<path d="M40,520.6 Q49,525.6 58.4,520.4" stroke-width="1.4"/>
<path d="M42.6,519.2 Q49,522.4 56,519.2" stroke-width="1.1"/>
<path d="M41.6,523.4 Q49,527 57.4,523.4" stroke-width="1.1"/>
<path d="M43,526 L56,538 M43,530 L52,539.6 M47,525.6 L57,534.6 M52,525.6 L57,530 M43,534.6 L48,539.6 M56,526 L43,538 M56,530.6 L46,539.6 M52,525.6 L42,534.6 M47,525.6 L42,530 M57,534.6 L51,540 M49,525 L49,540 M42,532 L57,532 M42,536 L57,536 M42,528.6 L57,528.6" stroke-width="1.1"/>
<path d="M242.6,532 Q242.4,527.6 250.6,526 Q259,526 259.2,529.6 L259.2,535.2 Q254,534.6 250,536 Q245,536.6 242.6,535 Z" stroke-width="1.4"/>
<path d="M243.4,532.6 Q247,530.4 251,532 Q255,530.6 258.6,531.6" stroke-width="1.1"/>
<path d="M247.4,530 Q250.6,526.8 255,529.6" stroke-width="1.2"/>
<path d="M171.5,496.9 L173,490.5 L181.1,474.9 L184.9,473.3 L190,474.4 L193,471.1 L212.6,466 L213.4,459.3 L223.6,456.6 L226.8,458.2 L230.1,457.7 L230.6,453.5 L233.5,449.5 L236.8,448.9 L269.5,464.7 L269.5,469.2 L276.8,469.2 L294.3,479.9 L294.3,483.9 L286.4,488.4 L285.8,492.3 L280.8,494.6 L280.2,496.8 L275.7,498 L275.1,501.3 L254.3,509.2 L251.5,509.2 L213.4,506.6 L187.6,503.9 L171.5,499.6 Z" stroke-width="1.5"/>
<path d="M171.5,496.9 L180,495.3 L187.6,498.5 L201.6,494.2 L213.4,501.8 L245,502.8 L250.9,502.5 L274.6,496.8 L280.2,492.9 L286,489 L294.3,480.6" stroke-width="1.5"/>
<line x1="187.6" y1="498.5" x2="187.6" y2="503.9" stroke-width="1.5"/>
<line x1="213.4" y1="501.8" x2="213.4" y2="506.6" stroke-width="1.5"/>
<line x1="250.9" y1="502.5" x2="250.9" y2="509" stroke-width="1.5"/>
<line x1="254.3" y1="502" x2="254.3" y2="509.2" stroke-width="1.5"/>
<path d="M190.8,501.8 L202.6,498 L212.3,503.9" stroke-width="1.2"/>
<path d="M173.6,498.4 L182,497.4 L186,499.6" stroke-width="1.2"/>
<path d="M275.7,498 L274.8,496.8" stroke-width="1.2"/>
<path d="M280.8,494.6 L280.2,492.9" stroke-width="1.2"/>
<path d="M193.5,471.1 L214.5,465.7 L220.9,467.4 L220.9,471.1 L206.4,474.9 L206.4,471.9 L200.5,472.9 L200.5,475.4 L197.3,474.3 Z" stroke-width="1.4"/>
<path d="M213.4,459.3 L213.9,462 L216.6,462.5 L230.1,457.7" stroke-width="1.4"/>
<path d="M197.3,474.3 L197,477 L207,479.4" stroke-width="1.3"/>
<path d="M225,489.5 L228,487 L233.5,483.9 L243,481.1 L255.4,481.6 L264.4,484.4 L265,486.1 L258.8,492.3 L245.3,494 L243,496.8 L229,496.8 L224.6,494.6 Z" stroke-width="1.7"/>
<path d="M222,489 L232,482.6 L244.2,477.7 L258.8,478.8 L270.1,483.9 L259.9,494.6 L246.4,498 L243.6,499.6 L226,499.2" stroke-width="1.3"/>
<path d="M206.4,479.2 L223.1,474.9 L225.2,467.4 L228.4,459.8 L245,455" stroke-width="1.45"/>
<path d="M209,482 L225.6,477.6 L228,470 L231,462.6 L247.6,457.6" stroke-width="1.45"/>
<path d="M212,484.6 L228.4,480 L231,473 L234,465.6 L250,460.6" stroke-width="1.45"/>
<path d="M216,487 L231,483 L234,476 L237,468.6 L252.6,463.6" stroke-width="1.45"/>
<path d="M219.6,489.4 L226,487.6" stroke-width="1.45"/>
<path d="M237,479 L240,471.6 L255,466.6" stroke-width="1.45"/>
<path d="M240.6,477.4 L243,474.6 L257.6,469.6" stroke-width="1.45"/>
<path d="M233.5,450.6 L236,455 L243,452.6" stroke-width="1.45"/>
<path d="M241.9,456.3 L225,460.8" stroke-width="1.45"/>
<path d="M175.6,491 L183.6,476.4 L188,475.4" stroke-width="1.35"/>
<path d="M179,492.6 L186,480 L192,478" stroke-width="1.35"/>
<path d="M183,488 L187,483 L196,481.6" stroke-width="1.35"/>
<path d="M183,492 L193,489.4 L200,490.6 L207,489" stroke-width="1.35"/>
<path d="M178,495 L190,492.6 L201.6,493.4" stroke-width="1.35"/>
<path d="M200,479.6 L196,482.6" stroke-width="1.35"/>
<path d="M204,481.6 L212,489" stroke-width="1.35"/>
<path d="M209,489.6 L216,493.6 L221,493" stroke-width="1.35"/>
<path d="M205,491.6 L214.6,498.6 L224,498.6" stroke-width="1.35"/>
<ellipse cx="190.3" cy="485.1" rx="3.2" ry="1.9" stroke-width="1.6"/>
<ellipse cx="201.8" cy="486.2" rx="3.6" ry="2.1" stroke-width="1.7"/>
<path d="M205,482.6 Q210.6,483 210,487.6 Q208.6,490.6 204.6,490.6" stroke-width="1.5"/>
<path d="M188.6,485.4 L191.6,485" stroke-width="1.4"/>
<path d="M256,463 L262,466.6" stroke-width="1.5"/>
<path d="M259,466.6 L268,471.6" stroke-width="1.5"/>
<path d="M262,471 L274,477.6" stroke-width="1.5"/>
<path d="M252,470 L258,473.4" stroke-width="1.5"/>
<path d="M256,474 L263,477.6" stroke-width="1.5"/>
<path d="M270,472 L276,475.6" stroke-width="1.5"/>
<path d="M274,471 L283,476.4" stroke-width="1.5"/>
<path d="M279,474 L288,479.4" stroke-width="1.5"/>
<path d="M283,479 L290,483" stroke-width="1.5"/>
<path d="M277,478.6 L284,482.6" stroke-width="1.5"/>
<path d="M266,476.6 L272,480" stroke-width="1.5"/>
<path d="M271,481 L279,485.4" stroke-width="1.5"/>
<path d="M266,490 L277,484" stroke-width="1.5"/>
<path d="M262,495.4 L273,490" stroke-width="1.5"/>
<path d="M270,493 L282,487" stroke-width="1.5"/>
<path d="M258,498.4 L268,494.6" stroke-width="1.5"/>
<path d="M262,463.4 L262,467.6" stroke-width="1.5"/>
<path d="M269.5,469.2 L262.4,467.6" stroke-width="1.5"/>
<path d="M244,474.6 L250,476.6" stroke-width="1.5"/>
<path d="M248,472.6 L252,474" stroke-width="1.5"/>
<path d="M615.7,54.1 L617.7,53.0 Q618.6,52.5 619.2,51.7 L621.1,48.9 Q622.0,47.7 623.4,47.2 L651.6,38.3 Q651.6,38.3 651.6,38.3 L696.2,25.9 Q700.1,24.8 704.1,24.7 L717.5,24.5 Q721.5,24.4 725.2,25.9 L732.6,29.0 Q735.4,30.1 736.6,32.6 L736.8,32.9 Q737.9,35.1 740.2,36.0 L752.7,40.9 Q755.5,42.0 757.4,43.9 L757.4,43.9 Q759.3,45.8 758.8,48.8 L757.9,53.5 Q757.4,56.5 756.5,59.3 L755.5,62.2 Q754.9,64.1 753.2,65.1 L752.2,65.6 Q750.5,66.6 749.9,68.5 L749.8,68.5 Q749.2,70.4 747.6,71.6 L746.6,72.4 Q744.2,74.2 741.3,75.1 L701.4,87.4 Q697.6,88.6 693.6,88.9 L691.8,89.1 Q688.8,89.3 686.0,88.3 L628.5,68.2 Q625.7,67.2 624.2,65.3 L623.9,65.0 Q622.6,63.5 622.0,61.6 L621.2,59.2 Q620.7,57.8 619.2,57.5 L618.6,57.4 Q617.6,57.2 617.0,56.4 L615.6,54.7 Q615.3,54.3 615.7,54.1 Z" stroke-width="1.55"/>
<path d="M615.8,54.6 L619.8,57.1 Q620.7,57.6 621.7,57.9 L639.6,63.0 Q641.5,63.5 642.0,65.4 L642.3,66.6 Q642.8,68.5 644.6,69.4 L644.7,69.5 Q646.5,70.4 648.4,70.9 L663.5,74.9 Q665.4,75.4 667.4,75.2 L669.7,75.0 Q671.7,74.8 673.6,75.5 L688.2,81.0 Q691.0,82.0 693.5,81.8 L693.5,81.8 Q696.0,81.6 698.9,80.8 L741.3,69.9 Q744.2,69.1 747.0,68.0 L750.5,66.6" stroke-width="1.55"/>
<path d="M618.6,52.8 L623.8,50.3 Q625.1,49.6 626.5,50.2 L642.6,57.2 Q644.0,57.8 644.5,59.2 L645.3,61.6" stroke-width="1.3"/>
<path d="M671.7,74.8 L687.1,78.0 Q690.0,78.6 693.0,78.3 L693.3,78.2 Q696.3,77.9 699.2,77.1 L747.6,64.3 Q750.5,63.5 752.5,61.3 L754.9,58.6" stroke-width="1.4"/>
<path d="M691.3,71.6 L726.2,62.9 Q729.1,62.2 732.0,61.3 L737.5,59.7 Q740.4,58.8 743.2,57.8 L747.7,56.3 Q750.5,55.3 752.0,52.7 L752.8,51.6 Q754.3,49.0 754.0,47.1 L754.0,47.1 Q753.6,45.2 751.4,44.9 L749.2,44.6" stroke-width="1.5"/>
<path d="M689.0,72.6 L691.5,73.0 Q693.0,73.2 694.4,72.8 L700.0,71.0" stroke-width="1.4"/>
<rect x="677" y="33.6" width="33.0341" height="3.6" rx="1.8" stroke-width="1.5" transform="rotate(-2.60256 677 35.4)"/>
<rect x="663.6" y="45.4" width="61.6467" height="3.6" rx="1.8" stroke-width="1.5" transform="rotate(-2.23117 663.6 47.2)"/>
<rect x="671.6" y="54.5" width="68.9162" height="3.4" rx="1.7" stroke-width="1.5" transform="rotate(3.3274 671.6 56.2)"/>
<rect x="672.6" y="62.5" width="28.3387" height="3.4" rx="1.7" stroke-width="1.5" transform="rotate(5.67036 672.6 64.2)"/>
<rect x="652.6" y="49.1" width="15.4738" height="5" rx="2.5" stroke-width="1.6" transform="rotate(-75.7841 652.6 51.6)"/>
<path d="M646.8,63.6 Q646.4,58.4 655.3,58.2 Q664.4,58.8 663.8,63.4 Q661,67.4 653,66.6" stroke-width="1.6"/>
<ellipse cx="655.6" cy="62.2" rx="4.6" ry="2.1" stroke-width="1.5"/>
<path d="M720.6,27.6 Q716.6,25.6 713,28 Q711.4,31 716.5,32 Q720.6,32 721.6,30" stroke-width="1.5"/>
<path d="M739.4,38.6 Q735.4,36.8 731.6,39 Q730,42 735,43 Q739.6,43 740.6,41" stroke-width="1.5"/>
<path d="M728.6,37.6 Q726,40.6 729.6,43.4 Q732,44.4 734,44" stroke-width="1.4"/>
<path d="M656.6,68.4 L659.6,69.6 M660.6,71 Q663,72.6 665.8,71.2" stroke-width="1.4"/>
<path d="M659.2,112.4 L659.2,98.6 Q662.8,95 666.6,98.6 L666.6,112.4" stroke-width="1.6"/>
<path d="M659.2,100.2 Q662.9,102.6 666.6,100.2" stroke-width="1.4"/>
<path d="M659.2,103.6 Q662.9,106.0 666.6,103.6" stroke-width="1.4"/>
<path d="M659.2,107.0 Q662.9,109.4 666.6,107.0" stroke-width="1.4"/>
<path d="M659.2,110.2 Q662.9,112.6 666.6,110.2" stroke-width="1.4"/>
<ellipse cx="663.2" cy="113.8" rx="8.7" ry="3.2" stroke-width="1.5"/>
<path d="M654.5,114.6 L654.5,126.6 Q655,130.4 663.2,130.7 Q671.4,130.4 672,126.6 L672,114.6" stroke-width="1.6"/>
<path d="M654.6,118 Q663,123 671.8,118" stroke-width="1.4"/>
<path d="M569,353.3 L646.6,385" stroke-width="1.2"/>
<path d="M557.7,362.5 L643.8,396.4 L646.7,394.2" stroke-width="1.3"/>
<path d="M644.5,390.7 Q645,387 650.9,385.8 Q656.5,386 658,389.3 L658,392.1 Q656.5,394.6 651,394.6 Q646.7,394.4 644.5,390.7" stroke-width="1.3"/>
<path d="M646.6,389.6 Q651,391.6 657.6,389.6" stroke-width="1.1"/>
<ellipse cx="558" cy="344.1" rx="2.6" ry="1.5" stroke-width="1.35"/>
<ellipse cx="630.4" cy="318.4" rx="2.6" ry="1.5" stroke-width="1.35"/>
<ellipse cx="753.6" cy="290" rx="2.8" ry="1.6" stroke-width="1.35"/>
<ellipse cx="836" cy="323.6" rx="2.8" ry="1.6" stroke-width="1.35"/>
<ellipse cx="721.4" cy="373" rx="2.8" ry="1.6" stroke-width="1.35"/>
<path d="M565.5,373.8 L571.1,388.8 Q571.8,390.7 573.0,392.3 L573.4,392.6 Q574.6,394.2 576.3,395.2 L608.5,414.0 Q608.5,414.0 608.5,414.0 L632.3,428.0 Q634.0,429.0 635.9,429.7 L636.1,429.7 Q638.0,430.4 640.0,430.3 L649.2,429.6 Q651.2,429.5 652.6,428.1 L654.9,425.8" stroke-width="1.45"/>
<path d="M634.2,402.7 L636,427.4" stroke-width="1.2"/>
<path d="M648.8,404.1 L647.5,429.5" stroke-width="1.2"/>
<path d="M654.9,425.8 L660.9,424.8 Q662.4,424.6 663.8,424.1 L705.3,407.9 Q707.2,407.2 708.6,405.8 L710.8,403.6 Q712.2,402.2 714.2,402.0 L722.6,401.1 Q724.6,400.9 726.5,400.4 L738.5,397.4 Q739.5,397.2 740.4,396.8 L785.9,378.9 Q786.8,378.5 787.7,379.0 L788.4,379.3 Q789.3,379.8 790.2,379.4 L807.3,373.0 Q809.2,372.3 809.8,370.4 L814.2,357.4" stroke-width="1.45"/>
<path d="M708.4,388.5 L705.9,405.9" stroke-width="1.2"/>
<path d="M724.6,384.8 L722.1,400.9" stroke-width="1.2"/>
<path d="M844,338 L843,344" stroke-width="1.1"/>
<path d="M619.7,328 L621.6,348 L622.6,355.4" stroke-width="1.25"/>
<path d="M639.4,326.5 L637.5,357.5 L636.4,358.4" stroke-width="1.25"/>
<path d="M680.3,312.5 L680.3,335.7" stroke-width="1.25"/>
<path d="M746,300 L743,320" stroke-width="1.25"/>
<path d="M601.5,365.3 L620.5,360.4" stroke-width="1.25"/>
<path d="M626.9,372.4 L655.1,364.6" stroke-width="1.25"/>
<path d="M645.2,352.6 L742,322.4" stroke-width="1.25"/>
<path d="M743,322.4 L793,341" stroke-width="1.25"/>
<path d="M650.2,355.4 L668,364" stroke-width="1.25"/>
<path d="M671,360 L711,349" stroke-width="1.25"/>
<path d="M678,369 L684,373" stroke-width="1.25"/>
<path d="M701,338 L738,358" stroke-width="1.25"/>
<path d="M723,344.4 L759,334" stroke-width="1.25"/>
<line x1="653.6" y1="404" x2="653.6" y2="483" stroke-width="1.25"/>
<ellipse cx="750.7" cy="416.6" rx="10.2" ry="4.8" stroke-width="1.4"/>
<ellipse cx="750.7" cy="416.4" rx="6" ry="2.6" stroke-width="1.2"/>
<path d="M740.5,416.6 L740.5,420 Q750.7,429 760.9,420 L760.9,416.6" stroke-width="1.4"/>
<ellipse cx="750.8" cy="436.4" rx="6.8" ry="3" stroke-width="1.4"/>
<path d="M744,436.4 L744,445 M757.6,436.4 L757.6,445" stroke-width="1.4"/>
<path d="M744,440.6 Q750.8,444.6 757.6,440.6" stroke-width="1.2"/>
<ellipse cx="750.7" cy="447.2" rx="10.2" ry="4.6" stroke-width="1.4"/>
<path d="M740.5,447.2 L740.5,450 Q750.7,459 760.9,450 L760.9,447.2" stroke-width="1.4"/>
<path d="M744,444.4 Q750.8,448.6 757.6,444.4" stroke-width="1.2"/>
<path d="M644.4,488 L647,485.6 L653,484.4 L660,486 L671,491 L731,475.6 L720,469 L719.6,467 L724,464.4 L731,465 L743,471.6 L772,465 L778,466.4 L780.6,470 L780,476 L777,477.6 L776.4,475 L769,477 L767,479.6 L680,503 L678,502 L668,505 L666,508 L663.6,507 L663.6,500 L666,497 L648,492 Z" stroke-width="1.4"/>
<path d="M666,497 L774,469.6 L776.4,475" stroke-width="1.4"/>
<path d="M666,497 L668,505" stroke-width="1.1"/>
<path d="M774,469.6 L777,466.6" stroke-width="1.1"/>
<ellipse cx="652.4" cy="488" rx="2.6" ry="1.5" stroke-width="1.35"/>
<ellipse cx="726.6" cy="467.6" rx="2.6" ry="1.5" stroke-width="1.35"/>
<path d="M519,216.4 L521.6,207.6 Q523.4,204.6 525,208.4 L528.2,219" stroke-width="1.7"/>
<line x1="525" y1="208" x2="560" y2="208" stroke-width="1.5"/>
<line x1="541" y1="209" x2="541" y2="219" stroke-width="1.4"/>
<path d="M560.3,220.7 L560.3,212.5 Q560.3,211.5 560.6,210.5 L564.2,197.9 Q565.0,195.0 567.0,193.0 L567.0,193.0 Q569.1,191.0 572.0,190.2 L615.6,178.2 Q618.5,177.4 621.4,178.1 L622.7,178.5 Q625.6,179.2 628.5,179.2 L628.5,179.2 Q631.5,179.2 633.2,176.8 L633.2,176.8 Q635.0,174.5 637.4,173.0 L637.4,173.0 Q639.7,171.5 642.6,170.7 L676.0,161.0 Q676.0,161.0 676.0,161.0 L736.0,152.6 Q740.0,152.0 744.0,152.3 L745.0,152.4 Q749.0,152.7 752.7,154.1 L770.0,160.5 Q770.0,160.5 770.0,160.5 L803.8,172.7 Q807.6,174.1 811.2,175.9 L815.3,178.0 Q818.9,179.8 821.5,182.4 L822.0,182.8 Q824.1,184.9 824.8,186.6 L824.8,186.5 Q825.5,188.2 826.3,190.0 L827.6,193.0 Q828.4,194.8 828.8,196.2 L828.8,196.2 Q829.3,197.6 828.3,199.5 L828.3,199.5 Q827.4,201.4 826.0,202.6 L826.0,202.6 Q824.6,203.8 822.7,204.5 L822.7,204.5 Q820.8,205.2 817.8,205.6 L810.0,206.8 Q810.0,206.8 810.0,206.8 L731.3,230.9 Q729.4,231.5 727.7,231.9 L727.7,231.9 Q726.0,232.4 723.0,232.1 L719.1,231.8 Q716.1,231.5 713.8,233.4 L713.4,233.8 Q711.1,235.7 708.3,236.6 L690.0,242.7 Q690.0,242.7 690.0,242.7 L659.4,251.2 Q656.5,252.0 653.5,252.0 L650.0,252.0 Q647.0,252.0 644.2,251.0 L600.0,235.6 Q600.0,235.6 600.0,235.6 L573.5,225.9 Q572.6,225.6 571.7,225.2 L560.6,221.1 Q560.3,221.0 560.3,220.7 Z" stroke-width="1.45"/>
<path d="M824.8,203.6 L824.3,204.8 Q823.8,206.0 822.1,206.9 L822.1,206.9 Q820.5,207.8 817.6,208.5 L810.0,210.4 Q810.0,210.4 810.0,210.4 L731.3,235.1 Q729.4,235.7 727.7,236.1 L727.7,236.1 Q726.0,236.6 723.0,236.3 L720.5,236.0 Q717.5,235.7 715.2,237.6 L714.8,238.0 Q712.5,239.9 709.6,240.7 L690.0,246.3 Q690.0,246.3 690.0,246.3 L658.2,255.9 Q655.3,256.8 652.3,256.8 L650.0,256.8 Q647.0,256.8 644.2,255.8 L600.0,239.7 Q600.0,239.7 600.0,239.7 L576.4,230.9 Q575.0,230.4 574.2,229.2 L572.6,226.8" stroke-width="1.45"/>
<path d="M562.4,214.2 L563.3,212.4 Q563.8,211.5 564.1,210.5 L567.1,200.3 Q568.0,197.4 569.8,195.7 L569.8,195.7 Q571.5,193.9 574.4,193.0 L615.6,180.7 Q618.5,179.8 621.4,180.7 L622.7,181.2 Q625.6,182.1 628.6,181.8 L629.6,181.8 Q632.6,181.5 634.6,179.3 L635.4,178.4 Q637.4,176.2 638.7,175.3 L638.7,175.3 Q640.0,174.4 641.9,173.8 L676.0,164.0 Q676.0,164.0 676.0,164.0 L736.0,155.6 Q740.0,155.0 744.0,155.3 L744.0,155.3 Q748.0,155.6 751.7,157.1 L770.0,164.2 Q770.0,164.2 770.0,164.2 L802.0,176.0 Q805.8,177.4 809.4,179.0 L810.6,179.6 Q814.2,181.2 816.1,183.1 L816.1,183.1 Q818.0,184.9 818.5,186.6 L818.5,186.6 Q818.9,188.2 818.0,190.1 L818.0,190.1 Q817.1,192.0 814.7,193.8 L813.8,194.4 Q811.4,196.2 808.6,197.4 L808.6,197.4 Q805.8,198.6 802.9,199.4 L731.3,220.3 Q729.4,220.9 727.7,221.2 L727.7,221.2 Q726.0,221.6 723.1,220.7 L721.1,220.1 Q718.2,219.2 715.4,219.7 L715.4,219.7 Q712.5,220.2 710.5,222.4 L708.9,224.3 Q706.9,226.5 704.0,227.2 L690.0,230.8 Q690.0,230.8 690.0,230.8 L659.4,240.0 Q656.5,240.9 653.5,240.9 L650.0,240.9 Q647.0,240.9 644.2,239.9 L600.0,223.8 Q600.0,223.8 600.0,223.8 L568.3,212.4 Q567.4,212.1 567.7,211.1 L569.1,206.4 Q569.7,204.5 571.1,203.6 L571.2,203.6 Q572.6,202.7 574.5,202.1 L615.6,189.5 Q618.5,188.6 621.4,189.2 L622.7,189.5 Q625.6,190.1 628.6,190.0 L629.6,189.9 Q632.6,189.8 634.4,188.6 L634.5,188.5 Q636.2,187.4 636.8,185.7 L636.8,185.7 Q637.4,183.9 638.7,183.4 L639.1,183.3 Q640.0,183.0 641.0,182.7 L676.0,172.0 Q676.0,172.0 676.0,172.0 L734.1,162.6 Q738.0,162.0 742.0,162.4 L744.0,162.6 Q748.0,163.0 751.7,164.5 L770.0,171.8 Q770.0,171.8 770.0,171.8 L797.4,182.1 Q801.1,183.5 804.7,185.1 L805.9,185.7 Q809.5,187.3 812.4,189.9 L815.2,192.5" stroke-width="1.45"/>
<path d="M562.4,214.2 L600.0,228.0 Q600.0,228.0 600.0,228.0 L644.2,244.0 Q647.0,245.0 650.0,245.0 L653.5,245.0 Q656.5,245.0 659.4,244.1 L690.0,234.3 Q690.0,234.3 690.0,234.3 L705.4,230.2 Q708.3,229.4 710.3,227.1 L711.2,226.0 Q713.2,223.7 715.7,223.0 L715.7,223.0 Q718.2,222.3 721.1,223.1 L723.1,223.8 Q726.0,224.6 727.7,224.1 L727.7,224.1 Q729.4,223.7 731.3,223.1 L810.0,200.2 Q810.0,200.2 810.0,200.2 L811.6,199.8 Q813.3,199.4 815.2,198.7 L818.0,197.7 Q820.8,196.7 822.7,194.4 L822.7,194.3 Q824.6,192.0 825.0,190.1 L825.5,188.2" stroke-width="1.45"/>
<line x1="675" y1="157" x2="675" y2="160" stroke-width="1.2"/>
<line x1="675" y1="167" x2="675" y2="171" stroke-width="1.2"/>
<line x1="741" y1="158.4" x2="741" y2="161.6" stroke-width="1.2"/>
<line x1="716" y1="226.5" x2="716" y2="230" stroke-width="1.2"/>
<line x1="726.6" y1="226.5" x2="726.6" y2="230.8" stroke-width="1.2"/>
<line x1="709.7" y1="230.8" x2="709.7" y2="234.3" stroke-width="1.2"/>
<line x1="619.4" y1="183" x2="619.4" y2="186.4" stroke-width="1.2"/>
<line x1="569.6" y1="197" x2="569.6" y2="201" stroke-width="1.2"/>
</g>
</svg>
</body></html>
